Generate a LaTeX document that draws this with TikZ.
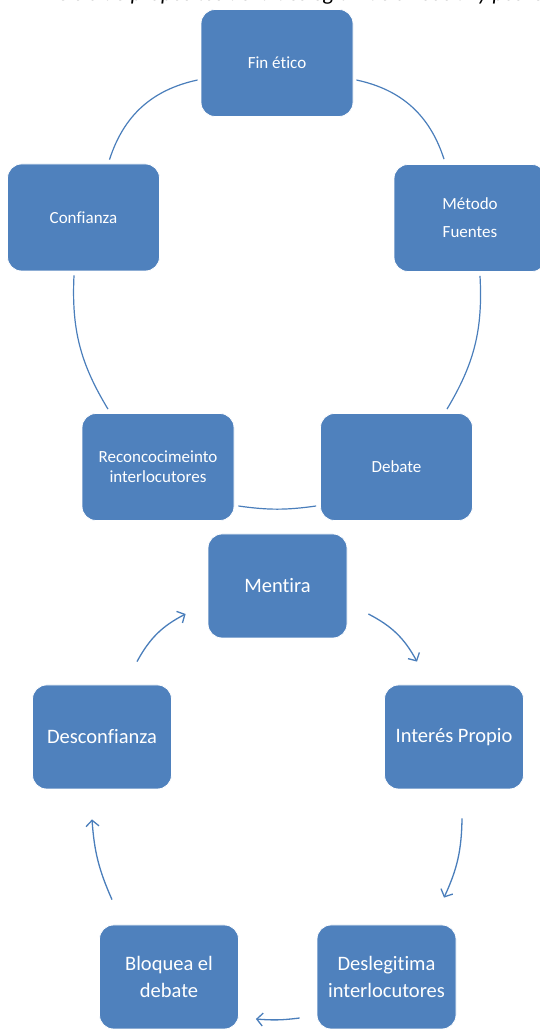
\documentclass[tikz,border=0pt]{standalone}
\usepackage{fontspec}
\setmainfont{Carlito}[Ligatures=NoCommon]
\usetikzlibrary{arrows.meta}
\definecolor{boxblue}{HTML}{4F81BD}
\definecolor{linkblue}{HTML}{4A7EBB}
\begin{document}
\begin{tikzpicture}[x=1pt,y=1pt,
  topbox/.style={rectangle, rounded corners=14pt, fill=boxblue, draw=white, line width=0.8pt,
    minimum width=152pt, minimum height=107pt, text=white, align=center, inner sep=0pt,
    font=\fontsize{17}{20.4}\selectfont},
  botbox/.style={topbox, minimum width=139pt, minimum height=104pt,
    font=\fontsize{20.5}{24.6}\selectfont},
  link/.style={draw=linkblue, line width=1.2pt},
  flow/.style={draw=linkblue, line width=1.3pt, -{Straight Barb[length=6pt,width=13pt]}}]
\clip (0,0) rectangle (540,1029);
% caption, cut off by the top edge as in the reference
\node[anchor=base west, inner sep=0pt, font=\itshape\fontsize{22}{26}\selectfont] (title) at (57,1028)
  {Ciclo de propósitos de la deslegitimación social y posverdad};
% upper cycle
\node[topbox] (fin) at (277,966) {Fin ético};
\node[topbox] (conf) at (83.5,811.5) {Confianza};
\node[topbox] (met) at (470,811) {Método\\[7.6pt]Fuentes};
\node[topbox] (rec) at (158,562) {Reconcocimeinto\\interlocutores};
\node[topbox] (deb) at (396.5,562) {Debate};
\draw[link] ([xshift=-3pt,yshift=-17pt]fin.west) to[bend right=30] ([xshift=26pt,yshift=4pt]conf.north);
\draw[link] ([xshift=3pt,yshift=-17pt]fin.east) to[bend left=30] ([xshift=-26pt,yshift=5pt]met.north);
\draw[link] ([xshift=-9.5pt,yshift=-4pt]conf.south) to[bend right=17] ([xshift=-50pt,yshift=4pt]rec.north);
\draw[link] ([xshift=10pt,yshift=-4pt]met.south) to[bend left=17] ([xshift=50.5pt,yshift=4pt]deb.north);
\draw[link] ([xshift=4pt,yshift=-39pt]rec.east) to[bend right=8] ([xshift=-4pt,yshift=-39pt]deb.west);
% lower cycle
\node[botbox] (men) at (277.5,443) {Mentira};
\node[botbox] (desc) at (102,292) {Desconfianza};
\node[botbox] (int) at (454,292) {Interés Propio};
\node[botbox] (desl) at (386.5,52) {Deslegitima\\[2.4pt]interlocutores};
\node[botbox] (blo) at (169,52) {Bloquea el\\[2.4pt]debate};
\draw[flow] ([xshift=35pt,yshift=23pt]desc.north) to[bend left=17] ([xshift=-22pt,yshift=-28pt]men.west);
\draw[flow] ([xshift=21pt,yshift=-28pt]men.east) to[bend left=17] ([xshift=-37pt,yshift=23pt]int.north);
\draw[flow] ([xshift=8pt,yshift=-29pt]int.south) to[bend left=12] ([xshift=57.5pt,yshift=27pt]desl.north);
\draw[flow] ([xshift=-17pt,yshift=-41pt]desl.west) to[bend left=6] ([xshift=17pt,yshift=-42pt]blo.east);
\draw[flow] ([xshift=-57pt,yshift=25pt]blo.north) to[bend left=10] ([xshift=-10pt,yshift=-30pt]desc.south);
\end{tikzpicture}
\end{document}
